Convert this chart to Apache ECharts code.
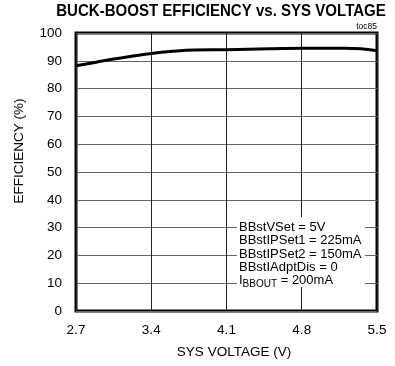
<!DOCTYPE html>
<html>
<head>
<meta charset="utf-8">
<script src="https://cdn.jsdelivr.net/npm/echarts@6/dist/echarts.min.js"></script>
<style>
  html, body { margin: 0; padding: 0; background: #fff; }
  #chart { width: 395px; height: 366px; }
</style>
</head>
<body>
<div id="chart"></div>
<script>
// Buck-boost efficiency against system voltage
const sysVoltage = [2.7, 2.9, 3.1, 3.4, 3.6, 3.8, 4.1, 4.5, 4.8, 5.2, 5.35, 5.5];
const efficiency = [88.2, 89.6, 90.9, 92.6, 93.4, 93.9, 94.0, 94.3, 94.5, 94.5, 94.3, 93.6];
const xTicks = [2.7, 3.4, 4.1, 4.8, 5.5];
const yTicks = [0, 10, 20, 30, 40, 50, 60, 70, 80, 90, 100];
const conditions = [
  'BBstVSet = 5V',
  'BBstIPSet1 = 225mA',
  'BBstIPSet2 = 150mA',
  'BBstIAdptDis = 0'
];

const FONT = '"Liberation Sans", Arial, Helvetica, sans-serif';
const xStart = xTicks[0];
const xStep = xTicks[1] - xTicks[0];

const chart = echarts.init(document.getElementById('chart'), null, { renderer: 'canvas' });

const condText = conditions.map(s => '{a|' + s + '}').join('\n') +
  '\n{a|I}{sub|BBOUT}{a| = 200mA}';

chart.setOption({
  animation: false,
  backgroundColor: '#fff',
  grid: {
    left: 76, right: 18, top: 33, bottom: 55,
    show: true, borderColor: '#000', borderWidth: 3, backgroundColor: 'transparent'
  },
  xAxis: {
    type: 'value',
    min: 0, max: xTicks[xTicks.length - 1] - xStart, interval: xStep,
    axisLine: { show: false },
    axisTick: { show: false },
    axisLabel: {
      margin: 12, fontFamily: FONT, fontSize: 13.5, color: '#000',
      formatter: v => (v + xStart).toFixed(1)
    },
    splitLine: { show: true, lineStyle: { color: '#222', width: 1 } }
  },
  yAxis: {
    type: 'value',
    min: yTicks[0], max: yTicks[yTicks.length - 1], interval: yTicks[1] - yTicks[0],
    axisLine: { show: false },
    axisTick: { show: false },
    axisLabel: { margin: 14, fontFamily: FONT, fontSize: 13.5, color: '#000' },
    splitLine: { show: true, lineStyle: { color: '#666', width: 1 } }
  },
  graphic: [
    {
      // chart title, set in a condensed bold face
      type: 'text', x: 221, y: 11, scaleX: 0.885, z: 10,
      style: {
        text: 'BUCK-BOOST EFFICIENCY vs. SYS VOLTAGE',
        fontFamily: FONT, fontWeight: 'bold', fontSize: 17, fill: '#000',
        textAlign: 'center', textVerticalAlign: 'middle'
      }
    },
    {
      type: 'text', x: 377, y: 27, z: 10,
      style: {
        text: 'toc85', fontFamily: FONT, fontSize: 8.5, fill: '#000',
        textAlign: 'right', textVerticalAlign: 'middle'
      }
    },
    {
      // axis titles
      type: 'text', x: 234, y: 352, z: 10,
      style: {
        text: 'SYS VOLTAGE (V)', fontFamily: FONT, fontSize: 13.5, fill: '#000',
        textAlign: 'center', textVerticalAlign: 'middle'
      }
    },
    {
      type: 'text', x: 19, y: 151, rotation: Math.PI / 2, z: 10,
      style: {
        text: 'EFFICIENCY (%)', fontFamily: FONT, fontSize: 13.5, fill: '#000',
        textAlign: 'center', textVerticalAlign: 'middle'
      }
    },
    {
      // white panel behind the test conditions
      type: 'rect', left: 237, top: 217, z: 5,
      shape: { width: 128, height: 70 },
      style: { fill: '#fff' }
    },
    {
      type: 'text', left: 239, top: 221, z: 10,
      style: {
        text: condText,
        rich: {
          a: { fontFamily: FONT, fontSize: 13, lineHeight: 13.3, fill: '#000' },
          sub: { fontFamily: FONT, fontSize: 10, lineHeight: 13.3, fill: '#000', padding: [7, 0, 0, 0] }
        }
      }
    }
  ],
  series: [{
    type: 'line',
    data: sysVoltage.map((v, i) => [v - xStart, efficiency[i]]),
    smooth: 0.4,
    showSymbol: false,
    lineStyle: { color: '#000', width: 3 },
    z: 3
  }]
});
</script>
</body>
</html>
